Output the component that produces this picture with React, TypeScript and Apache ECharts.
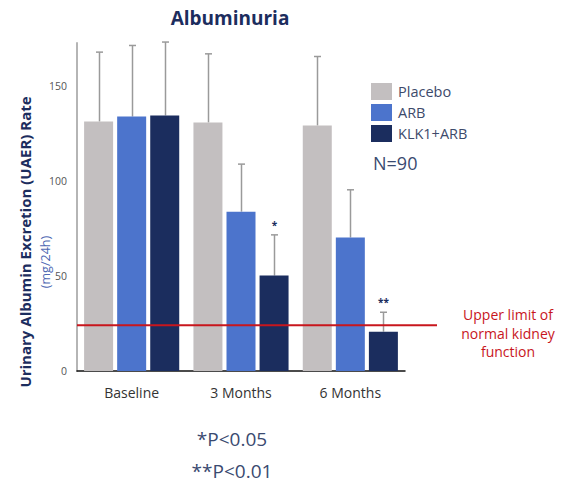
import React, { useEffect, useRef } from 'react';
import * as echarts from 'echarts';

const categories = ['Baseline', '3 Months', '6 Months'];
const seriesNames = ['Placebo', 'ARB', 'KLK1+ARB'];
const placeboValues = [131.2, 130.7, 129.1];
const arbValues = [133.8, 83.8, 70.2];
const klkValues = [134.4, 50.2, 20.7];
const placeboUpper = [167.7, 166.8, 165.4];
const arbUpper = [171.2, 108.8, 95.3];
const klkUpper = [173, 71.6, 30.9];
const placeboSig = ['', '', ''];
const arbSig = ['', '', ''];
const klkSig = ['', '*', '**'];
const normalLimit = 24;
const yMax = 172.5;
const yInterval = 50;

const colors = ['#c3bfc0', '#4c74cc', '#1b2d5e'];
const FONT = '"Open Sans", "Noto Sans", sans-serif';

const BAR_CAT_GAP = 0.13;
const BAR_GAP = 0.14;

export default function App() {
  const ref = useRef<HTMLDivElement>(null);
  useEffect(() => {
    if (!ref.current) return;
    const chart = echarts.init(ref.current, undefined, { renderer: 'svg' });
    const values = [placeboValues, arbValues, klkValues];
    const uppers = [placeboUpper, arbUpper, klkUpper];
    const sigs = [placeboSig, arbSig, klkSig];

    const barSeries = seriesNames.map((name, i) => ({
      name,
      type: 'bar',
      data: values[i],
      barGap: `${BAR_GAP * 100}%`,
      barCategoryGap: `${BAR_CAT_GAP * 100}%`,
      itemStyle: { color: colors[i] },
      z: 2,
    }));

    const errSeries = seriesNames.map((name, i) => ({
      name: name + ' err',
      type: 'custom',
      clip: false,
      z: 1,
      data: categories.map((_, c) => [c, values[i][c], uppers[i][c], sigs[i][c]]),
      renderItem: (params: any, api: any) => {
        const c = api.value(0);
        const v = api.value(1);
        const hi = api.value(2);
        const sig = sigs[i][c];
        const band = api.size([1, 0])[0];
        const bw = (band * (1 - BAR_CAT_GAP)) / (3 + 2 * BAR_GAP);
        const off = (i - 1) * bw * (1 + BAR_GAP);
        const p0 = api.coord([c, v]);
        const p1 = api.coord([c, hi]);
        const x = Math.round(p0[0] + off) + 0.5;
        const children: any[] = [
          { type: 'line', shape: { x1: x, y1: p0[1], x2: x, y2: p1[1] }, style: { stroke: '#9a9a9a', lineWidth: 1.5 } },
          { type: 'line', shape: { x1: x - 3.5, y1: p1[1], x2: x + 3.5, y2: p1[1] }, style: { stroke: '#9a9a9a', lineWidth: 1.5 } },
        ];
        if (sig) {
          children.push({
            type: 'text',
            style: {
              text: sig, x, y: p1[1] - 5, align: 'center', verticalAlign: 'bottom',
              fill: '#1b2d5e', font: `bold 10px ${FONT}`,
            },
          });
        }
        return { type: 'group', children };
      },
    }));

    chart.setOption({
      animation: false,
      textStyle: { fontFamily: FONT },
      title: {
        text: 'Albuminuria',
        left: 225,
        top: 3,
        textAlign: 'center',
        textStyle: { color: '#1c2d5e', fontSize: 19, fontWeight: 'bold', fontFamily: FONT },
      },
      legend: {
        data: seriesNames,
        orient: 'vertical',
        left: 366,
        top: 78,
        itemWidth: 21,
        itemHeight: 17,
        itemGap: 4,
        icon: 'rect',
        textStyle: { color: '#3d4a6b', fontSize: 14.5, fontFamily: FONT, padding: [0, 0, 0, 1] },
      },
      grid: { left: 77, right: 156, top: 43, bottom: 113 },
      xAxis: {
        type: 'category',
        data: categories,
        axisLine: { show: true, lineStyle: { color: '#111', width: 1.5 } },
        axisTick: { show: false },
        axisLabel: { color: '#333', fontSize: 14, margin: 14, fontFamily: FONT },
      },
      yAxis: {
        type: 'value',
        min: 0,
        max: yMax,
        interval: yInterval,
        axisLine: { show: true, lineStyle: { color: '#b5b5b5', width: 2 } },
        axisTick: { show: false },
        splitLine: { show: false },
        axisLabel: { color: '#555', fontSize: 10.5, margin: 10, showMaxLabel: false, fontFamily: FONT },
      },
      series: [...barSeries, ...errSeries],
    });

    const yLine = chart.convertToPixel({ yAxisIndex: 0 }, normalLimit) as number;
    const yZero = chart.convertToPixel({ yAxisIndex: 0 }, 0) as number;

    chart.setOption({
      graphic: [
        {
          type: 'line',
          shape: { x1: 77, y1: yLine, x2: 437, y2: yLine },
          style: { stroke: '#c8161d', lineWidth: 2 },
          z: 10,
        },
        {
          type: 'text',
          x: 25,
          y: yZero - 129,
          rotation: Math.PI / 2,
          style: {
            text: 'Urinary Albumin Excretion (UAER) Rate', align: 'center', verticalAlign: 'middle',
            fill: '#1c2d5e', font: `bold 15px ${FONT}`,
          },
        },
        {
          type: 'text',
          x: 45,
          y: yZero - 109,
          rotation: Math.PI / 2,
          style: {
            text: '(mg/24h)', align: 'center', verticalAlign: 'middle',
            fill: '#4f68b3', font: `12.5px ${FONT}`,
          },
        },
        {
          type: 'text',
          x: 373,
          y: 163,
          style: { text: 'N=90', verticalAlign: 'middle', fill: '#3a4a70', font: `18px ${FONT}` },
        },
        {
          type: 'text',
          x: 508,
          y: yLine - 20,
          style: {
            text: 'Upper limit of\nnormal kidney\nfunction', align: 'center', verticalAlign: 'top',
            fill: '#c8161d', font: `14px ${FONT}`, lineHeight: 18.5,
          },
        },
        {
          type: 'text',
          x: 232,
          y: 439,
          style: { text: '*P<0.05', align: 'center', verticalAlign: 'middle', fill: '#3a4a70', font: `19px ${FONT}` },
        },
        {
          type: 'text',
          x: 232,
          y: 471,
          style: { text: '**P<0.01', align: 'center', verticalAlign: 'middle', fill: '#3a4a70', font: `19px ${FONT}` },
        },
      ],
    });

    return () => chart.dispose();
  }, []);
  return <div ref={ref} style={{ position: 'absolute', left: 0, top: 0, width: 561, height: 484 }} />;
}
